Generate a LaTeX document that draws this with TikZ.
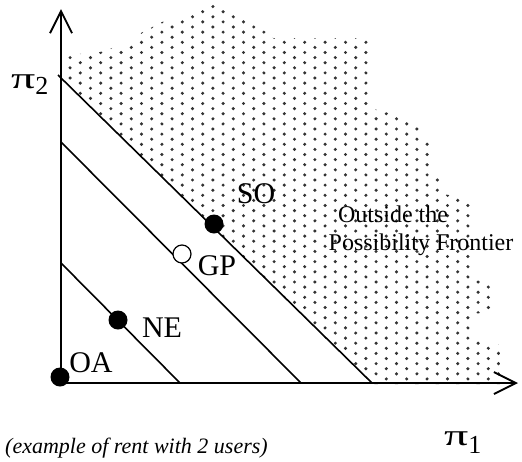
\documentclass[tikz,border=0pt]{standalone}
\usepackage{fontspec}
\setmainfont{Liberation Serif}
\usepackage{graphicx}
\usetikzlibrary{arrows.meta}
\newcommand\widepi{\scalebox{1.6}[1]{π}}
\begin{document}
\begin{tikzpicture}[x=1pt,y=-1pt,
  axis/.style={line width=1.9pt,-{Straight Barb[length=22pt,width=22pt,line width=1.9pt]}},
  frontier/.style={line width=1.6pt},
  solidpt/.style={circle,fill=black,inner sep=0pt,minimum size=19pt},
  openpt/.style={circle,draw=black,line width=1.2pt,fill=white,inner sep=0pt,minimum size=18pt},
  lbl/.style={font=\fontsize{30}{30}\selectfont,inner sep=0pt},
  note/.style={font=\fontsize{24}{26}\selectfont,inner sep=0pt,anchor=base},
  dotfill/.style={fill=black!80}
  ]
\useasboundingbox (0,0) rectangle (522,461);
% shaded region outside the possibility frontier
\begin{scope}
\clip (67,84) -- (67,55) -- (100,52) -- (131,42) -- (141,33) -- (162,22) -- (192,14)
  -- (213,3) -- (223,9) -- (263,30) -- (273,38) -- (370,38) -- (370,108) -- (385,112)
  -- (407,118) -- (418,128) -- (430,140) -- (430,172) -- (440,174) -- (440,193)
  -- (470,200) -- (472,280) -- (492,282) -- (492,312) -- (472,314) -- (472,340)
  -- (500,345) -- (500,384) -- (372,384) -- cycle;
\fill[dotfill] \foreach \i in {0,...,43} { \foreach \j in {0,...,38} {
  ({59.9+10.2*\i},{1.5+10.2*\j+5.1*mod(\i,2)}) circle[radius=1.7] } };
\end{scope}
% axes
\coordinate (O) at (61,383);
\coordinate (ytip) at (61,9);
\coordinate (xtip) at (518,383);
\draw[axis] (O) -- (ytip);
\draw[axis] (O) -- (xtip);
% iso-rent lines
\coordinate (a1) at (58,75);  \coordinate (b1) at (372,383);
\coordinate (a2) at (61,142); \coordinate (b2) at (301,383);
\coordinate (a3) at (61,263); \coordinate (b3) at (180,383);
\draw[frontier] (a1) -- (b1);
\draw[frontier] (a2) -- (b2);
\draw[frontier] (a3) -- (b3);
% points
\node[solidpt] (SO) at (214,224) {};
\node[openpt] (GP) at (182,254) {};
\node[solidpt] (NE) at (118,320) {};
\node[solidpt] (OA) at (60,377) {};
% labels
\node[lbl] (SOl) at (256,194) {SO};
\node[lbl] (GPl) at (217,266) {GP};
\node[lbl] (NEl) at (162,328) {NE};
\node[lbl] (OAl) at (91,363) {OA};
\node[lbl,anchor=base west] (pi2) at (11,88) {\widepi\raisebox{-6pt}{\fontsize{26}{26}\selectfont 2}};
\node[lbl,anchor=base west] (pi1) at (444,445) {\widepi\raisebox{-8pt}{\fontsize{26}{26}\selectfont 1}};
\node[note] (out1) at (393,222) {Outside the};
\node[note] (out2) at (421,250) {Possibility Frontier};
\node[anchor=base west,inner sep=0pt,font=\itshape\fontsize{22}{22}\selectfont] (cap) at (5,453) {(example of rent with 2 users)};
\end{tikzpicture}
\end{document}
